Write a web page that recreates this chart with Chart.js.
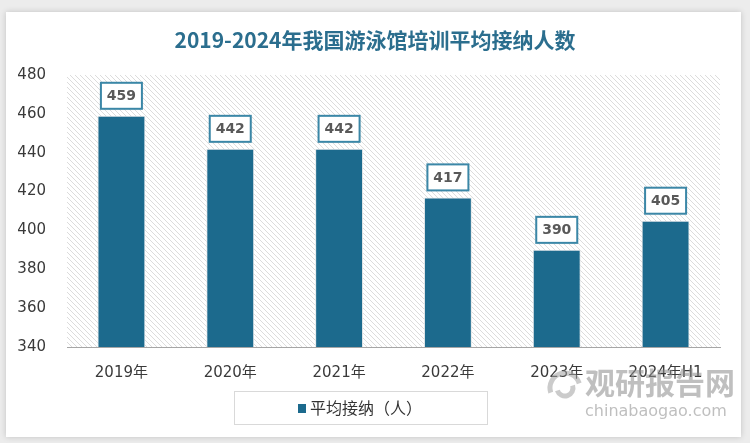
<!DOCTYPE html>
<html><head><meta charset="utf-8">
<script src="https://cdn.jsdelivr.net/npm/chart.js@4"></script>
<style>html,body{margin:0;padding:0;background:#ececec;}#c{display:block;}</style>
</head><body>
<canvas id="c" width="750" height="443"></canvas>
<script>
const categories = ['2019年','2020年','2021年','2022年','2023年','2024年H1'];
const values = [459, 442, 442, 417, 390, 405];
const seriesName = '平均接纳（人）';
const titleText = '2019-2024年我国游泳馆培训平均接纳人数';
const yMin = 340, yMax = 480, yStep = 20;

const barColor = '#1c6a8d';

const bgPlugin = {
  id: 'bg',
  beforeDraw(chart) {
    const ctx = chart.ctx;
    ctx.save();
    ctx.fillStyle = '#ececec';
    ctx.fillRect(0, 0, chart.width, chart.height);
    ctx.shadowColor = 'rgba(0,0,0,0.18)';
    ctx.shadowBlur = 6;
    ctx.fillStyle = '#ffffff';
    ctx.fillRect(6, 12, 735, 425);
    ctx.restore();
    ctx.save();
    ctx.font = 'bold 21px "Noto Sans CJK SC", serif';
    ctx.fillStyle = '#2b6e8e';
    ctx.textAlign = 'center';
    ctx.textBaseline = 'middle';
    ctx.fillText(titleText, 375, 40);
    ctx.restore();
  },
  beforeDatasetsDraw(chart) {
    const {ctx, chartArea: a} = chart;
    const p = document.createElement('canvas');
    p.width = 5; p.height = 5;
    const pc = p.getContext('2d');
    pc.fillStyle = '#ffffff'; pc.fillRect(0,0,5,5);
    pc.strokeStyle = '#dcdcdc'; pc.lineWidth = 1;
    pc.beginPath();
    pc.moveTo(0,0); pc.lineTo(5,5);
    pc.moveTo(-1,4); pc.lineTo(1,6);
    pc.moveTo(4,-1); pc.lineTo(6,1);
    pc.stroke();
    ctx.save();
    ctx.fillStyle = ctx.createPattern(p, 'repeat');
    ctx.fillRect(a.left, a.top, a.right - a.left, a.bottom - a.top);
    ctx.restore();
  },
  afterDatasetsDraw(chart) {
    const ctx = chart.ctx;
    const meta = chart.getDatasetMeta(0);
    ctx.save();
    meta.data.forEach((bar, i) => {
      const w = 41, h = 26;
      const x = bar.x - w / 2, y = bar.y - 7 - h;
      ctx.shadowColor = 'rgba(0,0,0,0.15)';
      ctx.shadowBlur = 3;
      ctx.fillStyle = '#ffffff';
      ctx.fillRect(x, y, w, h);
      ctx.shadowBlur = 0;
      ctx.strokeStyle = '#3b87a7';
      ctx.lineWidth = 2;
      ctx.strokeRect(x, y, w, h);
      ctx.fillStyle = '#595959';
      ctx.font = 'bold 14px "DejaVu Sans", sans-serif';
      ctx.textAlign = 'center';
      ctx.textBaseline = 'middle';
      ctx.fillText(String(chart.data.datasets[0].data[i]), bar.x, y + h / 2 + 1);
    });
    ctx.restore();
  },
  afterDraw(chart) {
    const ctx = chart.ctx;
    ctx.save();
    ctx.strokeStyle = '#d9d9d9';
    ctx.lineWidth = 1;
    ctx.fillStyle = '#ffffff';
    ctx.fillRect(234.5, 391.5, 253, 33);
    ctx.strokeRect(234.5, 391.5, 253, 33);
    ctx.fillStyle = chart.data.datasets[0].backgroundColor;
    ctx.fillRect(298, 404, 8, 9);
    ctx.fillStyle = '#333333';
    ctx.font = '16px "Noto Sans CJK SC", sans-serif';
    ctx.textAlign = 'left';
    ctx.textBaseline = 'middle';
    ctx.fillText(chart.data.datasets[0].label, 310, 408);
    ctx.globalAlpha = 0.55;
    ctx.strokeStyle = '#a0a0a0';
    ctx.lineWidth = 5;
    ctx.beginPath(); ctx.arc(565, 388, 15, Math.PI * 0.9, Math.PI * 1.9); ctx.stroke();
    ctx.beginPath(); ctx.arc(565, 388, 8, Math.PI * -0.1, Math.PI * 0.9); ctx.stroke();
    ctx.fillStyle = '#8a8a8a';
    ctx.font = 'bold 30px "Noto Sans CJK SC", sans-serif';
    ctx.textAlign = 'left';
    ctx.fillText('观研报告网', 585, 383);
    ctx.font = '16px "DejaVu Sans", sans-serif';
    ctx.fillText('chinabaogao.com', 585, 412);
    ctx.restore();
  }
};

new Chart(document.getElementById('c'), {
  type: 'bar',
  data: {
    labels: categories,
    datasets: [{
      label: seriesName,
      data: values,
      backgroundColor: barColor,
      borderColor: '#e4e8ea',
      borderWidth: 1,
      barPercentage: 0.44,
      categoryPercentage: 1.0
    }]
  },
  options: {
    responsive: false,
    animation: false,
    devicePixelRatio: 1,
    layout: { padding: { left: 0, right: 30, top: 75, bottom: 0 } },
    plugins: { legend: { display: false }, tooltip: { enabled: false }, title: { display: false } },
    scales: {
      x: {
        grid: { display: false },
        border: { display: true, color: '#a6a6a6', width: 1 },
        ticks: { color: '#3a3a3a', font: { size: 15, family: '"DejaVu Sans", "Noto Sans CJK SC", sans-serif' }, padding: 9, maxRotation: 0 },
        afterFit(s) { s.height = 96; }
      },
      y: {
        min: yMin, max: yMax,
        grid: { display: false, drawTicks: false },
        border: { display: false },
        ticks: { stepSize: yStep, color: '#3a3a3a', font: { size: 15, family: '"DejaVu Sans", sans-serif' }, padding: 21 },
        afterFit(s) { s.width = 67; }
      }
    }
  },
  plugins: [bgPlugin]
});
</script>
</body></html>
